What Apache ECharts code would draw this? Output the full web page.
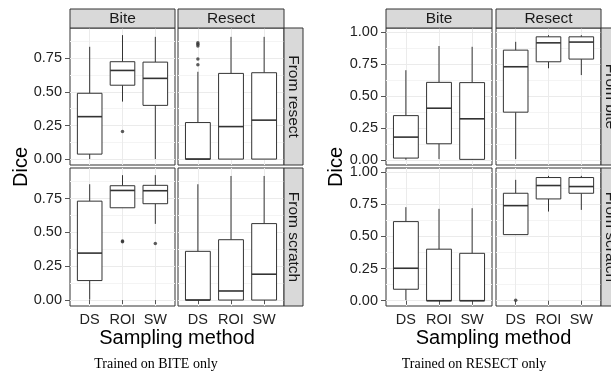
<!DOCTYPE html>
<html>
<head>
<meta charset="utf-8">
<script src="https://cdn.jsdelivr.net/npm/echarts@6/dist/echarts.min.js"></script>
<style>
html, body { margin: 0; padding: 0; background: #fff; }
#main { width: 611px; height: 374px; }
</style>
</head>
<body>
<div id="main"></div>
<script>
// x categories, facet columns and facet rows
var methods = ['DS', 'ROI', 'SW'];
var testSets = ['Bite', 'Resect'];
var biteRows = ['From resect', 'From scratch'];
var resectRows = ['From bite', 'From scratch'];

// box stats for DS, ROI, SW: [min, Q1, median, Q3, max]
// trained on BITE only
var biteResectOnBite = [[0.00, 0.037, 0.316, 0.49, 0.836], [0.428, 0.55, 0.66, 0.725, 0.923], [0.00, 0.40, 0.601, 0.722, 0.91]];
var biteResectOnResect = [[0.00, 0.00, 0.00, 0.272, 0.65], [0.00, 0.00, 0.242, 0.638, 0.91], [0.00, 0.00, 0.29, 0.643, 0.91]];
var biteScratchOnBite = [[0.003, 0.144, 0.347, 0.731, 0.856], [0.682, 0.682, 0.81, 0.845, 0.923], [0.563, 0.712, 0.808, 0.848, 0.923]];
var biteScratchOnResect = [[0.00, 0.00, 0.00, 0.36, 0.856], [0.00, 0.00, 0.067, 0.446, 0.917], [0.00, 0.00, 0.191, 0.565, 0.917]];
// trained on RESECT only
var resectBiteOnBite = [[0.00, 0.013, 0.177, 0.345, 0.70], [0.005, 0.125, 0.403, 0.605, 0.889], [0.00, 0.003, 0.32, 0.603, 0.883]];
var resectBiteOnResect = [[0.005, 0.372, 0.727, 0.857, 0.922], [0.715, 0.766, 0.914, 0.961, 0.974], [0.662, 0.787, 0.92, 0.961, 0.974]];
var resectScratchOnBite = [[0.005, 0.089, 0.252, 0.614, 0.726], [0.00, 0.00, 0.00, 0.40, 0.713], [0.00, 0.00, 0.00, 0.368, 0.718]];
var resectScratchOnResect = [[0.513, 0.513, 0.738, 0.834, 0.938], [0.692, 0.79, 0.894, 0.956, 0.969], [0.705, 0.834, 0.886, 0.956, 0.969]];

// outliers: [method position (1 = DS), dice]
var biteResectOnBiteOut = [[2, 0.205]];
var biteResectOnResectOut = [[1, 0.866], [1, 0.855], [1, 0.842], [1, 0.745], [1, 0.703]];
var biteScratchOnBiteOut = [[2, 0.43], [2, 0.437], [3, 0.418]];
var biteScratchOnResectOut = [];
var resectBiteOnBiteOut = [];
var resectBiteOnResectOut = [];
var resectScratchOnBiteOut = [];
var resectScratchOnResectOut = [[1, 0.003]];

var biteTicks = [0, 0.25, 0.5, 0.75];
var biteMinor = [0.125, 0.375, 0.625, 0.875];
var resectTicks = [0, 0.25, 0.5, 0.75, 1];
var resectMinor = [0.125, 0.375, 0.625, 0.875];

var chart = echarts.init(document.getElementById('main'));

var FONT = 'Liberation Sans';
var INK = '#333333';
var grids = [], xAxes = [], yAxes = [], series = [], graphics = [];

// ggplot style box: no whisker caps, white box, thicker median
function renderBox(params, api) {
    var x = api.value(0);
    var lo = api.coord([x, api.value(1)]);
    var q1 = api.coord([x, api.value(2)]);
    var md = api.coord([x, api.value(3)]);
    var q3 = api.coord([x, api.value(4)]);
    var hi = api.coord([x, api.value(5)]);
    var w = api.size([0.75, 0])[0];
    var thin = { stroke: INK, lineWidth: 1 };
    return {
        type: 'group',
        children: [
            { type: 'line', shape: { x1: lo[0], y1: lo[1], x2: q1[0], y2: q1[1] }, style: thin },
            { type: 'line', shape: { x1: q3[0], y1: q3[1], x2: hi[0], y2: hi[1] }, style: thin },
            { type: 'rect', shape: { x: q3[0] - w / 2, y: q3[1], width: w, height: q1[1] - q3[1] },
              style: { fill: '#fff', stroke: INK, lineWidth: 1 } },
            { type: 'line', shape: { x1: md[0] - w / 2, y1: md[1], x2: md[0] + w / 2, y2: md[1] },
              style: { stroke: INK, lineWidth: 1.6 } }
        ]
    };
}

function addPanel(rect, yRange, ticks, minor, showX, showY, boxes, outliers) {
    var g = grids.length;
    grids.push({
        left: rect[0], top: rect[1], width: rect[2], height: rect[3],
        show: true, backgroundColor: '#fff', borderColor: INK, borderWidth: 1
    });
    xAxes.push({
        type: 'value', gridIndex: g, min: 0.4, max: 3.6, position: 'bottom',
        axisLine: { show: false },
        axisTick: { show: showX, length: 4, customValues: [1, 2, 3], lineStyle: { color: '#555' } },
        axisLabel: {
            show: showX, customValues: [1, 2, 3], margin: 6,
            color: '#222', fontFamily: FONT, fontSize: 14.5,
            formatter: function (v) { return methods[Math.round(v) - 1]; }
        },
        splitLine: { show: true, lineStyle: { color: '#ebebeb', width: 1 } }
    });
    yAxes.push({
        type: 'value', gridIndex: g, min: yRange[0], max: yRange[1], position: 'left',
        axisLine: { show: false },
        axisTick: { show: showY, length: 5, customValues: ticks, lineStyle: { color: '#555' } },
        axisLabel: {
            show: showY, customValues: ticks, margin: 8,
            color: '#222', fontFamily: FONT, fontSize: 14.5,
            formatter: function (v) { return v.toFixed(2); }
        },
        splitLine: { show: true, lineStyle: { color: '#ebebeb', width: 1 } }
    });
    // minor grid lines
    yAxes.push({
        type: 'value', gridIndex: g, min: yRange[0], max: yRange[1], position: 'left',
        axisLine: { show: false },
        axisTick: { show: false, customValues: minor },
        axisLabel: { show: false },
        splitLine: { show: true, lineStyle: { color: '#f4f4f4', width: 1 } }
    });
    series.push({
        type: 'custom', xAxisIndex: g, yAxisIndex: 2 * g,
        renderItem: renderBox,
        encode: { x: 0, y: [1, 2, 3, 4, 5] },
        data: boxes.map(function (b, i) { return [i + 1].concat(b); }),
        z: 3
    });
    series.push({
        type: 'scatter', xAxisIndex: g, yAxisIndex: 2 * g,
        symbolSize: 3.5, itemStyle: { color: INK },
        data: outliers, z: 4
    });
}

function stripText(x, y, text, rot) {
    return {
        type: 'text', x: x, y: y, rotation: rot || 0,
        style: { text: text, fill: '#1a1a1a', font: '15.5px "Liberation Sans"', align: 'center', verticalAlign: 'middle' },
        z: 10
    };
}

function addFigure(cols, rows, yRange, ticks, minor, panels, outs, colNames, rowNames, diceX, caption, captionX) {
    var stripX = cols[1][0] + cols[1][1];
    for (var r = 0; r < 2; r++) {
        for (var c = 0; c < 2; c++) {
            addPanel([cols[c][0], rows[r][0], cols[c][1], rows[r][1]], yRange, ticks, minor,
                r === 1, c === 0, panels[r][c], outs[r][c]);
        }
        graphics.push({
            type: 'rect', shape: { x: stripX, y: rows[r][0], width: 19, height: rows[r][1] },
            style: { fill: '#d9d9d9', stroke: INK, lineWidth: 1 }, z: 9
        });
        graphics.push(stripText(stripX + 9.5, rows[r][0] + rows[r][1] / 2, rowNames[r], -Math.PI / 2));
    }
    for (var c2 = 0; c2 < 2; c2++) {
        graphics.push({
            type: 'rect', shape: { x: cols[c2][0], y: 9, width: cols[c2][1], height: 19 },
            style: { fill: '#d9d9d9', stroke: INK, lineWidth: 1 }, z: 9
        });
        graphics.push(stripText(cols[c2][0] + cols[c2][1] / 2, 18.5, colNames[c2]));
    }
    graphics.push({
        type: 'text', x: diceX, y: 167, rotation: Math.PI / 2,
        style: { text: 'Dice', fill: '#000', font: '20px "Liberation Sans"', align: 'center', verticalAlign: 'middle' }
    });
    graphics.push({
        type: 'text', x: (cols[0][0] + stripX) / 2, y: 338.5,
        style: { text: 'Sampling method', fill: '#000', font: '20px "Liberation Sans"', align: 'center', verticalAlign: 'middle' }
    });
    graphics.push({
        type: 'text', x: captionX, y: 364,
        style: { text: caption, fill: '#000', font: '14px "Liberation Serif"', align: 'center', verticalAlign: 'middle' }
    });
}

var rowRects = [[28, 137], [168, 138]];

addFigure([[70, 105], [178, 106]], rowRects, [-0.044, 0.976], biteTicks, biteMinor,
    [[biteResectOnBite, biteResectOnResect], [biteScratchOnBite, biteScratchOnResect]],
    [[biteResectOnBiteOut, biteResectOnResectOut], [biteScratchOnBiteOut, biteScratchOnResectOut]],
    testSets, biteRows, 21, 'Trained on BITE only', 156);

addFigure([[386, 106], [496, 105]], rowRects, [-0.041, 1.03], resectTicks, resectMinor,
    [[resectBiteOnBite, resectBiteOnResect], [resectScratchOnBite, resectScratchOnResect]],
    [[resectBiteOnBiteOut, resectBiteOnResectOut], [resectScratchOnBiteOut, resectScratchOnResectOut]],
    testSets, resectRows, 336, 'Trained on RESECT only', 474);

chart.setOption({
    animation: false,
    grid: grids,
    xAxis: xAxes,
    yAxis: yAxes,
    series: series,
    graphic: graphics
});

window.addEventListener('resize', function () {
    chart.resize();
});
</script>
</body>
</html>
